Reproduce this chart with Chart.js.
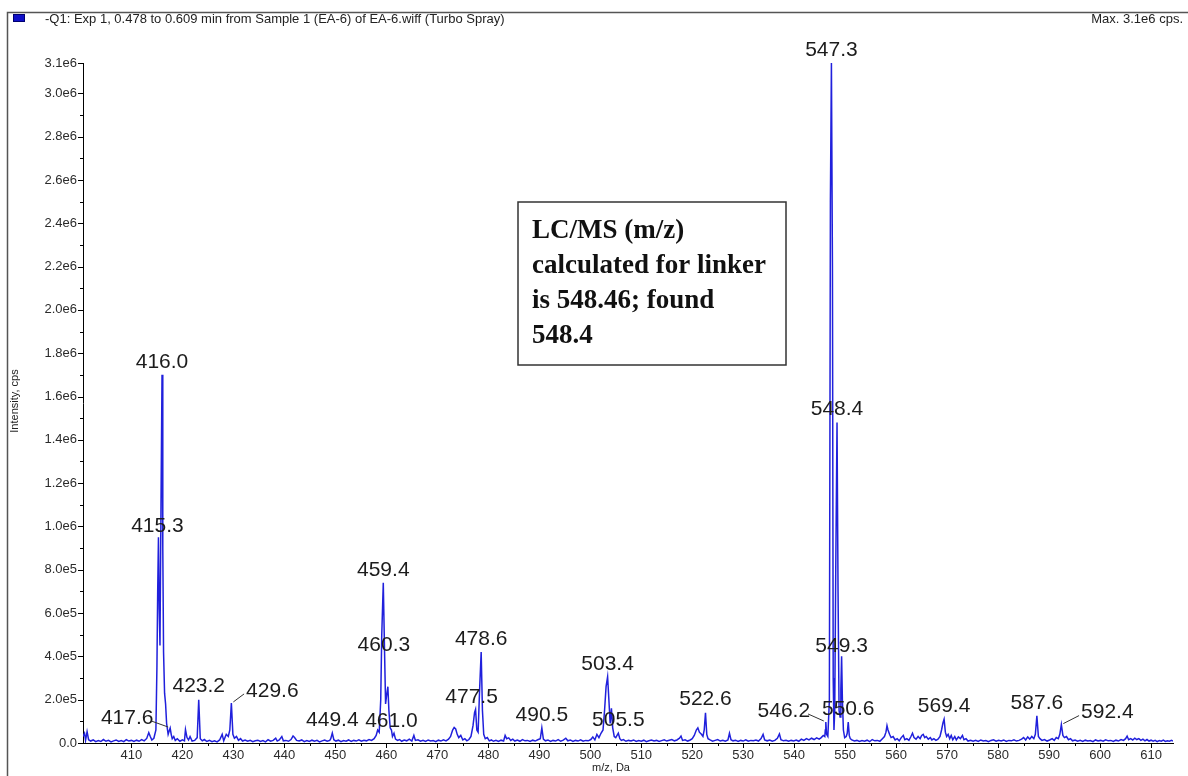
<!DOCTYPE html>
<html>
<head>
<meta charset="utf-8">
<title>Q1 spectrum, EA-6</title>
<script src="https://cdn.jsdelivr.net/npm/chart.js@4"></script>
<style>
  html, body { margin: 0; padding: 0; background: #fff; }
  canvas { display: block; }
</style>
</head>
<body>
<canvas id="spectrum" width="1188" height="776"></canvas>
<script>
// Profile trace: m/z (Da) and intensity (cps)
const mz = [
  400.5, 400.8, 401.0, 401.3, 401.6, 402.0, 402.5, 403.0, 403.5, 404.0,
  404.5, 405.0, 405.5, 406.0, 406.5, 407.0, 407.5, 408.0, 408.5, 409.0,
  409.5, 410.0, 410.5, 411.0, 411.5, 412.0, 412.5, 413.0, 413.4, 413.7,
  414.0, 414.4, 414.8, 415.0, 415.15, 415.3, 415.45, 415.6, 415.8, 416.0,
  416.15, 416.3, 416.5, 416.7, 416.9, 417.2, 417.4, 417.6, 417.8, 418.0,
  418.3, 418.6, 419.0, 419.5, 420.0, 420.4, 420.6, 420.9, 421.2, 421.5,
  421.9, 422.4, 422.9, 423.2, 423.5, 423.9, 424.3, 424.8, 425.3, 425.8,
  426.3, 426.8, 427.3, 427.8, 428.1, 428.6, 429.0, 429.3, 429.6, 429.9,
  430.2, 430.6, 431.0, 431.4, 431.8, 432.3, 432.8, 433.3, 433.8, 434.3,
  434.8, 435.3, 435.8, 436.3, 436.8, 437.3, 437.8, 438.3, 438.6, 439.0,
  439.5, 439.8, 440.3, 440.8, 441.3, 441.7, 442.0, 442.4, 442.9, 443.4,
  443.9, 444.4, 444.9, 445.4, 445.9, 446.4, 446.9, 447.4, 447.9, 448.4,
  448.9, 449.1, 449.4, 449.7, 450.1, 450.6, 451.1, 451.6, 452.1, 452.6,
  453.1, 453.6, 454.1, 454.6, 455.1, 455.6, 456.1, 456.6, 457.1, 457.6,
  458.0, 458.3, 458.6, 458.9, 459.1, 459.4, 459.65, 459.85, 460.05, 460.3,
  460.5, 460.75, 461.0, 461.2, 461.5, 461.8, 462.2, 462.6, 463.0, 463.5,
  464.0, 464.5, 465.0, 465.4, 465.7, 466.2, 466.7, 467.2, 467.7, 468.2,
  468.7, 469.2, 469.7, 470.2, 470.7, 471.2, 471.7, 472.2, 472.6, 473.0,
  473.3, 473.6, 473.9, 474.2, 474.6, 475.0, 475.4, 475.8, 476.2, 476.6,
  477.0, 477.3, 477.5, 477.75, 478.0, 478.3, 478.6, 478.85, 479.1, 479.4,
  479.8, 480.2, 480.6, 481.0, 481.5, 482.0, 482.5, 483.0, 483.3, 483.6,
  484.0, 484.4, 484.8, 485.2, 485.7, 486.2, 486.7, 487.2, 487.7, 488.2,
  488.7, 489.2, 489.7, 490.2, 490.5, 490.8, 491.2, 491.7, 492.2, 492.7,
  493.2, 493.7, 494.2, 494.7, 495.2, 495.6, 496.1, 496.6, 497.1, 497.6,
  498.1, 498.6, 499.1, 499.6, 500.1, 500.5, 500.9, 501.3, 501.7, 502.1,
  502.5, 502.8, 503.1, 503.4, 503.65, 503.9, 504.15, 504.4, 504.7, 505.0,
  505.25, 505.5, 505.8, 506.1, 506.5, 507.0, 507.5, 508.0, 508.5, 509.0,
  509.5, 510.0, 510.5, 511.0, 511.5, 512.0, 512.5, 513.0, 513.5, 514.0,
  514.5, 515.0, 515.5, 516.0, 516.5, 517.0, 517.5, 517.8, 518.1, 518.6,
  519.1, 519.6, 520.0, 520.4, 520.8, 521.1, 521.4, 521.8, 522.1, 522.35,
  522.6, 522.85, 523.1, 523.5, 524.0, 524.5, 525.0, 525.5, 526.0, 526.5,
  527.0, 527.3, 527.6, 528.0, 528.5, 529.0, 529.5, 530.0, 530.5, 531.0,
  531.5, 532.0, 532.5, 533.0, 533.5, 533.9, 534.2, 534.7, 535.2, 535.7,
  536.2, 536.7, 537.1, 537.4, 537.9, 538.4, 538.9, 539.4, 539.9, 540.4,
  540.9, 541.4, 541.9, 542.4, 542.9, 543.4, 543.9, 544.4, 544.9, 545.3,
  545.7, 546.0, 546.1, 546.2, 546.35, 546.6, 546.9, 547.1, 547.3, 547.5,
  547.65, 547.8, 547.95, 548.15, 548.4, 548.6, 548.8, 549.0, 549.15, 549.3,
  549.45, 549.65, 549.9, 550.2, 550.4, 550.6, 550.8, 551.0, 551.3, 551.8,
  552.3, 552.8, 553.3, 553.8, 554.3, 554.8, 555.3, 555.8, 556.3, 556.8,
  557.3, 557.7, 558.0, 558.2, 558.4, 558.7, 559.0, 559.4, 559.8, 560.2,
  560.6, 561.0, 561.4, 561.7, 562.1, 562.5, 562.9, 563.2, 563.5, 563.9,
  564.3, 564.7, 565.0, 565.3, 565.6, 565.9, 566.3, 566.7, 567.0, 567.4,
  567.8, 568.2, 568.6, 568.9, 569.2, 569.4, 569.65, 569.9, 570.2, 570.5,
  570.8, 571.1, 571.5, 571.8, 572.2, 572.6, 573.0, 573.3, 573.7, 574.1,
  574.6, 575.1, 575.6, 576.1, 576.6, 577.1, 577.6, 578.1, 578.6, 579.1,
  579.6, 580.1, 580.6, 581.1, 581.6, 582.1, 582.6, 583.1, 583.6, 584.1,
  584.6, 585.0, 585.4, 585.8, 586.2, 586.6, 587.0, 587.3, 587.6, 587.9,
  588.2, 588.6, 589.1, 589.6, 590.1, 590.6, 591.0, 591.4, 591.8, 592.1,
  592.4, 592.7, 593.0, 593.4, 593.8, 594.2, 594.6, 595.1, 595.6, 596.1,
  596.6, 597.1, 597.6, 598.1, 598.6, 599.1, 599.6, 600.1, 600.6, 601.1,
  601.6, 602.1, 602.6, 603.1, 603.6, 604.1, 604.6, 605.0, 605.3, 605.6,
  606.0, 606.4, 606.8, 607.2, 607.6, 608.0, 608.4, 608.8, 609.2, 609.6,
  610.0, 610.4, 610.8, 611.2, 611.6, 612.0, 612.4, 612.8, 613.2, 613.6,
  614.0, 614.3
];

const intensity = [
  30000, 45000, 12000, 52000, 15000, 9000, 14000, 6000, 11000, 7000,
  16000, 8000, 12000, 5000, 10000, 14000, 7000, 11000, 6000, 15000,
  9000, 12000, 7000, 13000, 8000, 16000, 10000, 21000, 48000, 30000,
  14000, 22000, 60000, 350000, 700000, 950000, 620000, 450000, 1100000, 1700000,
  900000, 420000, 230000, 180000, 90000, 40000, 55000, 69000, 40000, 20000,
  30000, 12000, 20000, 8000, 15000, 10000, 62000, 25000, 14000, 30000,
  9000, 12000, 25000, 200000, 20000, 10000, 16000, 7000, 12000, 6000,
  10000, 5000, 14000, 40000, 10000, 40000, 30000, 60000, 185000, 40000,
  22000, 30000, 12000, 20000, 9000, 14000, 8000, 12000, 6000, 10000,
  13000, 7000, 11000, 5000, 15000, 8000, 12000, 22000, 9000, 14000,
  30000, 10000, 12000, 8000, 16000, 32000, 25000, 12000, 9000, 14000,
  6000, 11000, 7000, 13000, 8000, 12000, 5000, 10000, 14000, 8000,
  12000, 20000, 46000, 15000, 9000, 13000, 6000, 11000, 8000, 14000,
  7000, 12000, 9000, 15000, 8000, 13000, 10000, 16000, 12000, 20000,
  35000, 60000, 50000, 200000, 500000, 740000, 420000, 180000, 220000, 260000,
  150000, 70000, 60000, 30000, 45000, 18000, 12000, 16000, 8000, 14000,
  10000, 18000, 9000, 35000, 12000, 15000, 8000, 12000, 7000, 14000,
  9000, 11000, 6000, 13000, 9000, 15000, 10000, 18000, 30000, 60000,
  72000, 65000, 40000, 25000, 35000, 14000, 20000, 10000, 16000, 30000,
  80000, 140000, 155000, 60000, 50000, 250000, 420000, 150000, 40000, 20000,
  25000, 10000, 14000, 8000, 12000, 7000, 13000, 9000, 35000, 20000,
  24000, 12000, 18000, 9000, 14000, 8000, 16000, 10000, 12000, 7000,
  13000, 9000, 15000, 20000, 70000, 18000, 10000, 14000, 7000, 12000,
  9000, 16000, 8000, 13000, 22000, 10000, 14000, 7000, 12000, 9000,
  15000, 8000, 12000, 10000, 16000, 28000, 14000, 40000, 25000, 45000,
  60000, 150000, 260000, 305000, 200000, 90000, 160000, 70000, 30000, 25000,
  35000, 45000, 20000, 12000, 16000, 8000, 12000, 9000, 14000, 7000,
  11000, 8000, 13000, 6000, 10000, 14000, 9000, 12000, 7000, 11000,
  15000, 9000, 13000, 16000, 10000, 14000, 22000, 32000, 12000, 15000,
  9000, 14000, 20000, 35000, 60000, 70000, 50000, 40000, 30000, 60000,
  140000, 40000, 20000, 14000, 8000, 12000, 16000, 9000, 13000, 8000,
  14000, 45000, 15000, 10000, 13000, 7000, 12000, 9000, 15000, 8000,
  12000, 10000, 14000, 9000, 20000, 40000, 14000, 10000, 14000, 8000,
  12000, 22000, 42000, 15000, 10000, 13000, 8000, 12000, 9000, 14000,
  8000, 18000, 12000, 20000, 14000, 22000, 16000, 24000, 18000, 25000,
  35000, 30000, 60000, 97000, 40000, 30000, 200000, 2500000, 3140000, 2200000,
  300000, 60000, 150000, 800000, 1480000, 700000, 150000, 120000, 250000, 400000,
  200000, 60000, 25000, 30000, 45000, 97000, 35000, 20000, 14000, 9000,
  12000, 7000, 11000, 8000, 13000, 6000, 16000, 10000, 12000, 8000,
  20000, 30000, 50000, 80000, 60000, 40000, 25000, 30000, 14000, 20000,
  10000, 25000, 35000, 15000, 20000, 12000, 30000, 45000, 25000, 18000,
  30000, 20000, 35000, 40000, 25000, 30000, 18000, 25000, 14000, 20000,
  12000, 18000, 30000, 60000, 95000, 110000, 50000, 30000, 40000, 20000,
  35000, 15000, 30000, 14000, 28000, 20000, 35000, 15000, 20000, 9000,
  13000, 8000, 12000, 7000, 14000, 9000, 11000, 6000, 12000, 15000,
  8000, 13000, 9000, 14000, 7000, 12000, 10000, 15000, 9000, 12000,
  18000, 25000, 14000, 28000, 18000, 30000, 20000, 40000, 125000, 30000,
  20000, 12000, 16000, 9000, 14000, 20000, 12000, 25000, 20000, 40000,
  85000, 35000, 25000, 30000, 15000, 20000, 10000, 14000, 8000, 12000,
  7000, 13000, 9000, 11000, 6000, 14000, 9000, 12000, 8000, 15000,
  10000, 12000, 7000, 13000, 9000, 16000, 12000, 20000, 32000, 15000,
  20000, 14000, 22000, 16000, 20000, 12000, 18000, 10000, 16000, 9000,
  13000, 8000, 12000, 6000, 11000, 8000, 13000, 7000, 10000, 8000,
  12000, 9000
];

// Annotated peak centroids (m/z)
const peakMz = [
  415.3, 416.0, 417.6, 423.2, 429.6, 449.4, 459.4, 460.3, 461.0, 477.5, 478.6, 490.5,
  503.4, 505.5, 522.6, 546.2, 547.3, 548.4, 549.3, 550.6, 569.4, 587.6, 592.4
];

// Axis ticks
const xRange = [400.5, 614.3];
const xTickValues = [410, 420, 430, 440, 450, 460, 470, 480, 490, 500, 510,
                     520, 530, 540, 550, 560, 570, 580, 590, 600, 610];
const yTickValues = [0, 2e5, 4e5, 6e5, 8e5, 1.0e6, 1.2e6, 1.4e6, 1.6e6,
                     1.8e6, 2.0e6, 2.2e6, 2.4e6, 2.6e6, 2.8e6, 3.0e6];
const yTickLabels = ['0.0', '2.0e5', '4.0e5', '6.0e5', '8.0e5', '1.0e6', '1.2e6', '1.4e6', '1.6e6',
                     '1.8e6', '2.0e6', '2.2e6', '2.4e6', '2.6e6', '2.8e6', '3.0e6'];
const maxLabel = '3.1e6';

const headerText = '-Q1: Exp 1, 0.478 to 0.609 min from Sample 1 (EA-6) of EA-6.wiff (Turbo Spray)';
const maxText = 'Max. 3.1e6 cps.';
const xTitle = 'm/z, Da';
const yTitle = 'Intensity, cps';
const noteLines = ['LC/MS (m/z)', 'calculated for linker', 'is 548.46; found', '548.4'];

// Where each peak label sits relative to its apex (px); labels not listed sit straight above.
const labelPlacement = {
  '415.3': { dx: -1, dy: -11 },
  '417.6': { dx: -43, dy: -10, leader: true },
  '429.6': { dx: 41, dy: -12, leader: true },
  '460.3': { dx: -4, dy: -41 },
  '461.0': { dx: 0, dy: -9 },
  '477.5': { dx: -4, dy: -12 },
  '546.2': { dx: -42, dy: -11, leader: true },
  '549.3': { dx: 0, dy: -10 },
  '592.4': { dx: 46, dy: -12, leader: true }
};

const SANS = '"Liberation Sans", Arial, Helvetica, sans-serif';
const SERIF = '"Liberation Serif", "Times New Roman", serif';
const TRACE_BLUE = '#2020dc';
const yMax = Math.max(...intensity);

function intensityAt(m) {
  const i = mz.findIndex(v => Math.abs(v - m) < 1e-6);
  return intensity[i];
}

const decorations = {
  id: 'decorations',
  afterDatasetsDraw(chart) {
    const { ctx, scales: { x, y } } = chart;
    ctx.save();
    // peak labels
    ctx.font = '21px ' + SANS;
    ctx.fillStyle = '#1c1c1c';
    ctx.strokeStyle = '#333';
    ctx.lineWidth = 1;
    ctx.textAlign = 'center';
    ctx.textBaseline = 'middle';
    peakMz.forEach(m => {
      const text = m.toFixed(1);
      const p = labelPlacement[text] || { dx: 0, dy: -13 };
      const ax = x.getPixelForValue(m);
      const ay = y.getPixelForValue(intensityAt(m));
      const cx = ax + p.dx, cy = ay + p.dy;
      ctx.fillText(text, cx, cy);
      if (p.leader) {
        const w = ctx.measureText(text).width;
        const ex = p.dx < 0 ? cx + w / 2 - 2 : cx - w / 2 - 2;
        ctx.beginPath();
        ctx.moveTo(ax + (p.dx < 0 ? -2 : 2), ay - 1);
        ctx.lineTo(ex, cy + 3);
        ctx.stroke();
      }
    });
    ctx.restore();
  },
  afterDraw(chart) {
    const { ctx, chartArea: a, scales: { x, y } } = chart;
    ctx.save();

    // outer frame
    ctx.strokeStyle = '#555';
    ctx.lineWidth = 1.5;
    ctx.beginPath();
    ctx.moveTo(7.5, 776);
    ctx.lineTo(7.5, 12.5);
    ctx.lineTo(1188, 12.5);
    ctx.stroke();

    // header: trace swatch, description, max intensity
    ctx.fillStyle = '#1010c8';
    ctx.fillRect(13, 14, 12, 8);
    ctx.strokeStyle = '#000070';
    ctx.lineWidth = 1;
    ctx.strokeRect(13.5, 14.5, 11, 7);
    ctx.fillStyle = '#222';
    ctx.font = '13px ' + SANS;
    ctx.textBaseline = 'middle';
    ctx.textAlign = 'left';
    ctx.fillText(headerText, 45, 19);
    ctx.textAlign = 'right';
    ctx.fillText(maxText, 1183, 19);

    // tick marks
    ctx.strokeStyle = '#000';
    ctx.lineWidth = 1;
    ctx.beginPath();
    xTickValues.forEach(v => {
      const px = Math.round(x.getPixelForValue(v)) + 0.5;
      ctx.moveTo(px, a.bottom);
      ctx.lineTo(px, a.bottom + 5);
      const mv = v - 5;
      if (mv > xRange[0]) {
        const pm = Math.round(x.getPixelForValue(mv)) + 0.5;
        ctx.moveTo(pm, a.bottom);
        ctx.lineTo(pm, a.bottom + 3);
      }
    });
    yTickValues.concat([yMax]).forEach(v => {
      const py = Math.round(y.getPixelForValue(v)) + 0.5;
      ctx.moveTo(a.left - 5, py);
      ctx.lineTo(a.left, py);
    });
    yTickValues.forEach(v => {
      const mv = v + 1e5;
      if (mv < yMax - 1e5) {
        const py = Math.round(y.getPixelForValue(mv)) + 0.5;
        ctx.moveTo(a.left - 3, py);
        ctx.lineTo(a.left, py);
      }
    });
    ctx.stroke();

    // axis titles
    ctx.fillStyle = '#222';
    ctx.font = '11px ' + SANS;
    ctx.textAlign = 'center';
    ctx.textBaseline = 'middle';
    ctx.fillText(xTitle, 611, 768);
    ctx.save();
    ctx.translate(15, 401);
    ctx.rotate(-Math.PI / 2);
    ctx.fillText(yTitle, 0, 0);
    ctx.restore();

    // note box
    const bx = 518, by = 202, bw = 268, bh = 163;
    ctx.fillStyle = '#fff';
    ctx.fillRect(bx, by, bw, bh);
    ctx.strokeStyle = '#333';
    ctx.lineWidth = 1.5;
    ctx.strokeRect(bx, by, bw, bh);
    ctx.fillStyle = '#111';
    ctx.font = 'bold 27px ' + SERIF;
    ctx.textAlign = 'left';
    ctx.textBaseline = 'alphabetic';
    noteLines.forEach((line, i) => ctx.fillText(line, 532, 238 + i * 35));

    ctx.restore();
  }
};

new Chart(document.getElementById('spectrum'), {
  type: 'line',
  data: {
    datasets: [{
      data: mz.map((m, i) => ({ x: m, y: intensity[i] })),
      borderColor: TRACE_BLUE,
      borderWidth: 1.5,
      pointRadius: 0,
      tension: 0,
      fill: false
    }]
  },
  options: {
    responsive: false,
    animation: false,
    devicePixelRatio: 1,
    parsing: false,
    layout: { padding: { left: 0, right: 15, top: 63, bottom: 0 } },
    plugins: { legend: { display: false }, tooltip: { enabled: false } },
    scales: {
      x: {
        type: 'linear',
        min: xRange[0],
        max: xRange[1],
        grid: { display: false, drawTicks: false },
        border: { display: true, color: '#000', width: 1 },
        ticks: {
          padding: 5,
          autoSkip: false,
          maxRotation: 0,
          color: '#2b2b2b',
          font: { family: SANS, size: 13 },
          callback: v => String(v)
        },
        afterBuildTicks: s => { s.ticks = xTickValues.map(v => ({ value: v })); },
        afterFit: s => { s.height = 33; }
      },
      y: {
        type: 'linear',
        min: 0,
        max: yMax,
        grid: { display: false, drawTicks: false },
        border: { display: true, color: '#000', width: 1 },
        ticks: {
          padding: 6,
          autoSkip: false,
          color: '#2b2b2b',
          font: { family: SANS, size: 13 },
          callback: (v, i) => (i < yTickLabels.length ? yTickLabels[i] : maxLabel)
        },
        afterBuildTicks: s => { s.ticks = yTickValues.concat([yMax]).map(v => ({ value: v })); },
        afterFit: s => { s.width = 83; }
      }
    }
  },
  plugins: [decorations]
});
</script>
</body>
</html>
